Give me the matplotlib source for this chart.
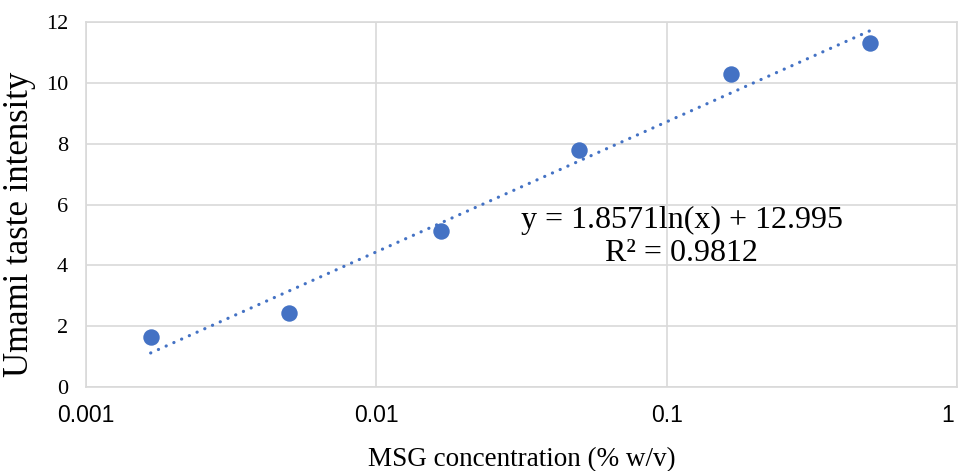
import numpy as np
import matplotlib.pyplot as plt
from matplotlib.transforms import ScaledTranslation

# MSG concentration (% w/v) and umami intensity
msg_conc = [0.00167, 0.005, 0.0167, 0.05, 0.167, 0.5]
umami = [1.64, 2.43, 5.13, 7.8, 10.3, 11.32]

# logarithmic trendline as printed on the chart
slope = 1.8571
intercept = 12.995
r_squared = 0.9812

x_ticks = [0.001, 0.01, 0.1, 1]
x_tick_labels = ["0.001", "0.01", "0.1", "1"]
y_ticks = [0, 2, 4, 6, 8, 10, 12]

blue = "#4472C4"
grid_col = "#d9d9d9"

fig = plt.figure(figsize=(9.61, 4.71), dpi=100)
ax = fig.add_axes([86 / 961, 1 - 387 / 471, (957 - 86) / 961, (387 - 22) / 471])

# trendline endpoints span the data range
x_fit = np.array([min(msg_conc), max(msg_conc)])
y_fit = slope * np.log(x_fit) + intercept
ax.plot(x_fit, y_fit, color=blue, linewidth=2.3,
        linestyle=(0, (0.05, 2.6)), dash_capstyle="round", zorder=2)

ax.scatter(msg_conc, umami, s=140, color=blue, zorder=3, linewidths=0)

ax.set_xscale("log")
ax.set_xlim(0.001, 1)
ax.set_ylim(0, 12)
ax.set_xticks(x_ticks)
ax.set_xticklabels(x_tick_labels, family="Liberation Sans", fontsize=16.5)
ax.minorticks_off()
ax.set_yticks(y_ticks)
ax.set_yticklabels([str(v) for v in y_ticks], family="Liberation Serif", fontsize=16)
ax.tick_params(axis="y", length=0, pad=13)
ax.tick_params(axis="x", length=0, pad=12)

# keep the last x label inside the figure, like the original
last = ax.get_xticklabels()[-1]
last.set_transform(last.get_transform() + ScaledTranslation(-9 / 100, 0, fig.dpi_scale_trans))

ax.grid(True, color=grid_col, linewidth=1.2)
ax.set_axisbelow(True)
for side in ["left", "bottom", "right", "top"]:
    ax.spines[side].set_color(grid_col)
    ax.spines[side].set_linewidth(1.2)

ax.set_xlabel("MSG concentration (% w/v)", family="Liberation Serif", fontsize=19.5)
ax.xaxis.set_label_coords(0.5, -0.165)
ax.set_ylabel("Umami taste intensity", family="Liberation Serif", fontsize=25)
ax.yaxis.set_label_coords(-0.057, 0.447)

ax.text(0.684, 0.41, f"y = {slope}ln(x) + {intercept}\nR\u00b2 = {r_squared}",
        transform=ax.transAxes, ha="center", va="center", family="Liberation Serif",
        fontsize=23, linespacing=1.18)

fig.savefig("out.png", dpi=100)
